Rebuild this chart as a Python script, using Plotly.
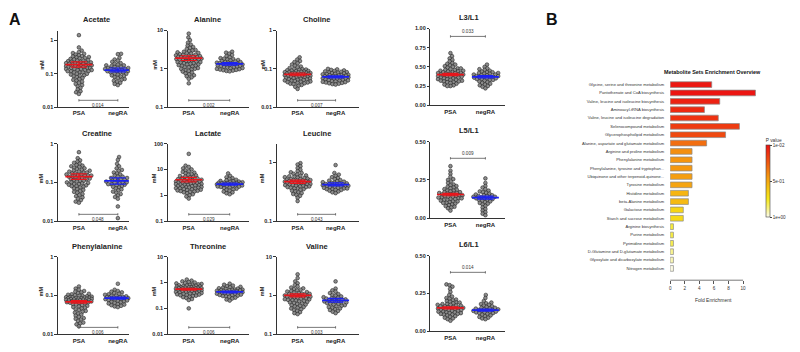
import math
import plotly.graph_objects as go

W, H = 800, 352
FONT = "Liberation Sans"

# ------------------------------------------------------------------ data (panel A)
panel_names = ["Acetate", "Alanine", "Choline", "Creatine", "Lactate", "Leucine",
               "Phenylalanine", "Threonine", "Valine", "L3/L1", "L5/L1", "L6/L1"]
group_labels = ["PSA", "negRA"]

acetate_psa = [1.45, 0.62, 0.5, 0.45, 0.42, 0.4, 0.38, 0.36, 0.34, 0.33, 0.32, 0.31, 0.3, 0.29, 0.28, 0.27, 0.26, 0.25, 0.25, 0.24, 0.23, 0.23, 0.22, 0.22, 0.21, 0.21, 0.2, 0.2, 0.2, 0.19, 0.19, 0.18, 0.18, 0.18, 0.17, 0.17, 0.16, 0.16, 0.16, 0.15, 0.15, 0.15, 0.14, 0.14, 0.14, 0.13, 0.13, 0.13, 0.12, 0.12, 0.12, 0.11, 0.11, 0.11, 0.1, 0.1, 0.095, 0.09, 0.088, 0.085, 0.08, 0.075, 0.07, 0.066, 0.062, 0.058, 0.054, 0.05, 0.046, 0.042, 0.038, 0.034, 0.03, 0.028, 0.025]
acetate_negra = [0.4, 0.39, 0.3, 0.27, 0.25, 0.23, 0.21, 0.2, 0.19, 0.18, 0.18, 0.17, 0.17, 0.16, 0.16, 0.15, 0.15, 0.15, 0.14, 0.14, 0.14, 0.13, 0.13, 0.13, 0.12, 0.12, 0.12, 0.11, 0.11, 0.11, 0.1, 0.1, 0.095, 0.09, 0.087, 0.083, 0.08, 0.075, 0.07, 0.066, 0.062, 0.058, 0.054, 0.05, 0.046]
alanine_psa = [8.3, 6.6, 5.6, 4.8, 4.3, 4.0, 3.7, 3.5, 3.3, 3.1, 3.0, 2.9, 2.8, 2.7, 2.6, 2.55, 2.5, 2.4, 2.35, 2.3, 2.25, 2.2, 2.15, 2.1, 2.05, 2.0, 2.0, 1.95, 1.9, 1.9, 1.85, 1.8, 1.8, 1.75, 1.7, 1.7, 1.65, 1.6, 1.6, 1.55, 1.5, 1.5, 1.45, 1.4, 1.4, 1.35, 1.3, 1.3, 1.25, 1.2, 1.2, 1.15, 1.1, 1.1, 1.05, 1.0, 1.0, 0.96, 0.92, 0.88, 0.85, 0.8, 0.76, 0.72, 0.68, 0.64, 0.6, 0.55, 0.42]
alanine_negra = [2.8, 2.65, 2.5, 2.3, 2.15, 2.0, 1.9, 1.85, 1.8, 1.75, 1.7, 1.65, 1.6, 1.55, 1.5, 1.5, 1.45, 1.45, 1.4, 1.4, 1.35, 1.35, 1.3, 1.3, 1.28, 1.25, 1.22, 1.2, 1.18, 1.15, 1.12, 1.1, 1.08, 1.05, 1.03, 1.0, 0.98, 0.96, 0.94, 0.92, 0.9, 0.88, 0.86]
choline_psa = [0.2, 0.175, 0.16, 0.15, 0.14, 0.13, 0.12, 0.115, 0.11, 0.105, 0.1, 0.098, 0.096, 0.094, 0.092, 0.09, 0.088, 0.087, 0.085, 0.084, 0.082, 0.081, 0.08, 0.079, 0.078, 0.077, 0.076, 0.075, 0.074, 0.073, 0.072, 0.071, 0.07, 0.069, 0.068, 0.067, 0.066, 0.065, 0.064, 0.063, 0.062, 0.061, 0.06, 0.059, 0.058, 0.057, 0.056, 0.055, 0.054, 0.053, 0.052, 0.051, 0.05, 0.049, 0.048, 0.047, 0.046, 0.045, 0.044, 0.043, 0.042, 0.041, 0.04, 0.038, 0.036, 0.034, 0.03]
choline_negra = [0.1, 0.097, 0.094, 0.091, 0.088, 0.086, 0.084, 0.082, 0.08, 0.079, 0.077, 0.076, 0.074, 0.073, 0.072, 0.07, 0.069, 0.068, 0.067, 0.066, 0.065, 0.064, 0.063, 0.062, 0.061, 0.06, 0.059, 0.058, 0.057, 0.056, 0.055, 0.054, 0.053, 0.052, 0.051, 0.05, 0.049, 0.048, 0.047, 0.046, 0.045, 0.044, 0.043, 0.042, 0.041, 0.04, 0.039]
creatine_psa = [0.6, 0.42, 0.37, 0.34, 0.32, 0.3, 0.28, 0.27, 0.26, 0.25, 0.24, 0.23, 0.22, 0.21, 0.2, 0.2, 0.19, 0.19, 0.18, 0.18, 0.17, 0.17, 0.16, 0.16, 0.155, 0.15, 0.15, 0.145, 0.14, 0.14, 0.135, 0.13, 0.13, 0.125, 0.12, 0.12, 0.115, 0.11, 0.11, 0.105, 0.1, 0.1, 0.097, 0.094, 0.09, 0.09, 0.087, 0.084, 0.08, 0.08, 0.077, 0.074, 0.07, 0.067, 0.064, 0.06, 0.057, 0.054, 0.05, 0.047, 0.044, 0.041, 0.038, 0.035, 0.032, 0.03]
creatine_negra = [0.45, 0.38, 0.3, 0.26, 0.23, 0.21, 0.2, 0.18, 0.17, 0.16, 0.15, 0.14, 0.14, 0.13, 0.13, 0.12, 0.12, 0.115, 0.11, 0.11, 0.105, 0.1, 0.1, 0.097, 0.094, 0.09, 0.09, 0.087, 0.084, 0.08, 0.077, 0.074, 0.07, 0.066, 0.062, 0.058, 0.054, 0.05, 0.046, 0.042, 0.038, 0.024, 0.012]
lactate_psa = [40, 14, 12.5, 11, 10, 9.2, 8.5, 8, 7.5, 7, 6.6, 6.2, 5.9, 5.6, 5.3, 5.1, 4.9, 4.7, 4.5, 4.3, 4.2, 4.0, 3.9, 3.8, 3.7, 3.6, 3.5, 3.4, 3.3, 3.2, 3.1, 3.0, 2.95, 2.9, 2.8, 2.75, 2.7, 2.6, 2.55, 2.5, 2.45, 2.4, 2.3, 2.25, 2.2, 2.1, 2.05, 2.0, 1.95, 1.9, 1.85, 1.8, 1.75, 1.7, 1.65, 1.6, 1.55, 1.5, 1.45, 1.4, 1.35, 1.3, 1.2, 1.1, 1.0, 0.9, 0.75]
lactate_negra = [7, 5.6, 5.0, 4.6, 4.3, 4.0, 3.8, 3.6, 3.5, 3.4, 3.3, 3.2, 3.1, 3.05, 3.0, 2.95, 2.9, 2.85, 2.8, 2.75, 2.7, 2.65, 2.6, 2.55, 2.5, 2.45, 2.4, 2.35, 2.3, 2.25, 2.2, 2.15, 2.1, 2.0, 1.9, 1.8, 1.7, 1.6, 1.5, 1.4, 1.3, 1.2, 1.1]
leucine_psa = [0.97, 0.92, 0.86, 0.8, 0.75, 0.71, 0.68, 0.66, 0.64, 0.62, 0.6, 0.59, 0.58, 0.57, 0.56, 0.55, 0.54, 0.53, 0.52, 0.52, 0.51, 0.5, 0.5, 0.49, 0.49, 0.48, 0.48, 0.47, 0.47, 0.46, 0.46, 0.45, 0.45, 0.44, 0.44, 0.43, 0.43, 0.42, 0.42, 0.41, 0.41, 0.4, 0.4, 0.39, 0.39, 0.38, 0.38, 0.37, 0.36, 0.36, 0.35, 0.34, 0.33, 0.32, 0.31, 0.3, 0.29, 0.28, 0.27, 0.25, 0.22]
leucine_negra = [0.9, 0.66, 0.62, 0.59, 0.56, 0.54, 0.52, 0.5, 0.49, 0.48, 0.47, 0.46, 0.45, 0.45, 0.44, 0.44, 0.43, 0.43, 0.42, 0.42, 0.41, 0.41, 0.4, 0.4, 0.39, 0.39, 0.38, 0.38, 0.37, 0.37, 0.36, 0.36, 0.35, 0.35, 0.34, 0.34, 0.33, 0.32, 0.31, 0.3]
phenylalanine_psa = [0.17, 0.15, 0.14, 0.13, 0.125, 0.12, 0.115, 0.11, 0.107, 0.104, 0.101, 0.099, 0.097, 0.095, 0.093, 0.091, 0.09, 0.089, 0.088, 0.087, 0.086, 0.085, 0.084, 0.083, 0.082, 0.081, 0.08, 0.079, 0.078, 0.077, 0.076, 0.075, 0.074, 0.073, 0.072, 0.071, 0.07, 0.069, 0.068, 0.067, 0.066, 0.065, 0.064, 0.062, 0.06, 0.058, 0.056, 0.054, 0.052, 0.05, 0.048, 0.046, 0.044, 0.042, 0.04, 0.038, 0.036, 0.034, 0.032, 0.03, 0.028, 0.026, 0.025, 0.024, 0.022, 0.02, 0.019, 0.018, 0.016]
phenylalanine_negra = [0.2, 0.14, 0.13, 0.125, 0.12, 0.115, 0.11, 0.107, 0.104, 0.101, 0.099, 0.097, 0.095, 0.093, 0.091, 0.09, 0.088, 0.087, 0.086, 0.085, 0.084, 0.083, 0.082, 0.08, 0.079, 0.078, 0.076, 0.075, 0.074, 0.072, 0.07, 0.068, 0.066, 0.064, 0.062, 0.06, 0.058, 0.056, 0.054, 0.052, 0.05]
threonine_psa = [1.3, 1.18, 1.1, 1.04, 1.0, 0.96, 0.92, 0.88, 0.85, 0.82, 0.8, 0.78, 0.76, 0.74, 0.72, 0.7, 0.69, 0.68, 0.66, 0.65, 0.64, 0.63, 0.62, 0.61, 0.6, 0.59, 0.58, 0.57, 0.56, 0.55, 0.54, 0.53, 0.52, 0.51, 0.5, 0.5, 0.49, 0.48, 0.47, 0.46, 0.45, 0.44, 0.43, 0.42, 0.41, 0.4, 0.39, 0.38, 0.37, 0.36, 0.35, 0.34, 0.33, 0.32, 0.31, 0.3, 0.28, 0.27, 0.25, 0.23, 0.21, 0.1]
threonine_negra = [0.9, 0.82, 0.76, 0.72, 0.68, 0.65, 0.62, 0.6, 0.58, 0.56, 0.54, 0.53, 0.52, 0.51, 0.5, 0.49, 0.48, 0.47, 0.46, 0.45, 0.44, 0.43, 0.42, 0.41, 0.4, 0.39, 0.38, 0.37, 0.36, 0.35, 0.34, 0.33, 0.32, 0.31, 0.3, 0.29, 0.28, 0.26, 0.24, 0.22, 0.2]
valine_psa = [3.5, 2.8, 2.3, 2.05, 1.85, 1.7, 1.6, 1.52, 1.45, 1.4, 1.35, 1.3, 1.26, 1.22, 1.18, 1.15, 1.12, 1.1, 1.08, 1.05, 1.03, 1.0, 0.99, 0.97, 0.95, 0.93, 0.92, 0.9, 0.88, 0.87, 0.85, 0.84, 0.82, 0.8, 0.79, 0.77, 0.75, 0.74, 0.72, 0.7, 0.68, 0.66, 0.64, 0.62, 0.6, 0.58, 0.56, 0.54, 0.52, 0.5, 0.48, 0.46, 0.44, 0.42, 0.4, 0.37, 0.35, 0.33]
valine_negra = [2.3, 1.5, 1.35, 1.25, 1.15, 1.08, 1.02, 0.98, 0.94, 0.9, 0.87, 0.85, 0.83, 0.81, 0.79, 0.77, 0.75, 0.73, 0.71, 0.7, 0.68, 0.66, 0.65, 0.63, 0.61, 0.6, 0.58, 0.56, 0.54, 0.52, 0.5, 0.48, 0.46, 0.44, 0.42, 0.4, 0.38, 0.35]
l3l1_psa = [0.68, 0.64, 0.61, 0.59, 0.57, 0.55, 0.54, 0.53, 0.52, 0.51, 0.5, 0.49, 0.48, 0.48, 0.47, 0.46, 0.46, 0.45, 0.45, 0.44, 0.44, 0.43, 0.43, 0.42, 0.42, 0.42, 0.41, 0.41, 0.4, 0.4, 0.4, 0.39, 0.39, 0.38, 0.38, 0.38, 0.37, 0.37, 0.36, 0.36, 0.35, 0.35, 0.34, 0.34, 0.33, 0.33, 0.32, 0.32, 0.31, 0.31, 0.3, 0.3, 0.29, 0.28, 0.27, 0.26, 0.25, 0.25]
l3l1_negra = [0.53, 0.5, 0.48, 0.47, 0.46, 0.45, 0.44, 0.43, 0.43, 0.42, 0.42, 0.41, 0.41, 0.4, 0.4, 0.39, 0.39, 0.38, 0.38, 0.37, 0.37, 0.37, 0.36, 0.36, 0.35, 0.35, 0.34, 0.34, 0.33, 0.33, 0.32, 0.31, 0.3, 0.29, 0.28, 0.27, 0.26, 0.25, 0.24, 0.22]
l5l1_psa = [0.34, 0.31, 0.29, 0.27, 0.255, 0.25, 0.24, 0.23, 0.22, 0.215, 0.21, 0.205, 0.2, 0.195, 0.19, 0.185, 0.18, 0.18, 0.175, 0.17, 0.17, 0.165, 0.165, 0.16, 0.16, 0.155, 0.155, 0.15, 0.15, 0.145, 0.145, 0.14, 0.14, 0.135, 0.135, 0.13, 0.13, 0.125, 0.125, 0.12, 0.12, 0.115, 0.11, 0.11, 0.105, 0.1, 0.1, 0.095, 0.09, 0.085, 0.08, 0.075, 0.07, 0.065, 0.05]
l5l1_negra = [0.26, 0.23, 0.21, 0.2, 0.19, 0.18, 0.175, 0.17, 0.165, 0.16, 0.155, 0.15, 0.15, 0.145, 0.145, 0.14, 0.14, 0.135, 0.135, 0.13, 0.13, 0.125, 0.12, 0.12, 0.115, 0.11, 0.105, 0.1, 0.095, 0.09, 0.08, 0.07, 0.06, 0.05, 0.04, 0.03, 0.02]
l6l1_psa = [0.31, 0.305, 0.295, 0.28, 0.26, 0.24, 0.23, 0.22, 0.215, 0.21, 0.205, 0.2, 0.195, 0.19, 0.19, 0.185, 0.18, 0.18, 0.175, 0.175, 0.17, 0.17, 0.165, 0.165, 0.16, 0.16, 0.155, 0.155, 0.15, 0.15, 0.15, 0.145, 0.145, 0.14, 0.14, 0.14, 0.135, 0.135, 0.13, 0.13, 0.125, 0.125, 0.12, 0.12, 0.115, 0.115, 0.11, 0.11, 0.105, 0.1, 0.095, 0.09, 0.085, 0.08, 0.07]
l6l1_negra = [0.24, 0.22, 0.2, 0.19, 0.185, 0.18, 0.175, 0.17, 0.165, 0.16, 0.155, 0.155, 0.15, 0.15, 0.145, 0.145, 0.14, 0.14, 0.14, 0.135, 0.135, 0.13, 0.13, 0.125, 0.125, 0.12, 0.12, 0.115, 0.11, 0.105, 0.1, 0.095, 0.09, 0.085, 0.08]

mean_psa = [0.19, 1.9, 0.072, 0.14, 4.0, 0.47, 0.068, 0.55, 1.0, 0.40, 0.155, 0.155]
ci_low_psa = [0.16, 1.65, 0.066, 0.12, 3.3, 0.44, 0.063, 0.51, 0.92, 0.385, 0.147, 0.148]
ci_high_psa = [0.23, 2.2, 0.078, 0.165, 4.9, 0.50, 0.074, 0.60, 1.10, 0.415, 0.163, 0.162]
mean_negra = [0.13, 1.35, 0.062, 0.11, 2.7, 0.42, 0.085, 0.43, 0.75, 0.37, 0.135, 0.14]
ci_low_negra = [0.115, 1.25, 0.058, 0.09, 2.45, 0.40, 0.080, 0.40, 0.67, 0.355, 0.125, 0.133]
ci_high_negra = [0.15, 1.45, 0.066, 0.13, 3.0, 0.45, 0.090, 0.46, 0.84, 0.385, 0.145, 0.147]
p_labels = ["0.014", "0.002", "0.007", "0.048", "0.029", "0.043",
            "0.006", "0.006", "0.003", "0.033", "0.009", "0.014"]

y_tickvals = [[0.01, 0.1, 1], [0.1, 1, 10], [0.01, 0.1, 1],
              [0.01, 0.1, 1], [0.1, 1, 10, 100], [0.1, 1],
              [0.01, 0.1, 1], [0.01, 0.1, 1, 10], [0.1, 1, 10],
              [0, 0.25, 0.5, 0.75, 1.0], [0, 0.25, 0.5], [0, 0.25, 0.5]]
y_ticktext = [["0.01", "0.1", "1"], ["0.1", "1", "10"], ["0.01", "0.1", "1"],
              ["0.01", "0.1", "1"], ["0.1", "1", "10", "100"], ["0.1", "1"],
              ["0.01", "0.1", "1"], ["0.01", "0.1", "1", "10"], ["0.1", "1", "10"],
              ["0.00", "0.25", "0.50", "0.75", "1.00"], ["0.00", "0.25", "0.50"], ["0.00", "0.25", "0.50"]]

psa_values = [acetate_psa, alanine_psa, choline_psa, creatine_psa, lactate_psa, leucine_psa,
              phenylalanine_psa, threonine_psa, valine_psa, l3l1_psa, l5l1_psa, l6l1_psa]
negra_values = [acetate_negra, alanine_negra, choline_negra, creatine_negra, lactate_negra, leucine_negra,
                phenylalanine_negra, threonine_negra, valine_negra, l3l1_negra, l5l1_negra, l6l1_negra]

# ------------------------------------------------------------------ data (panel B)
pathways = ["Glycine, serine and threonine metabolism", "Pantothenate and CoA biosynthesis",
            "Valine, leucine and isoleucine biosynthesis", "Aminoacyl-tRNA biosynthesis",
            "Valine, leucine and isoleucine degradation", "Selenocompound metabolism",
            "Glycerophospholipid metabolism", "Alanine, aspartate and glutamate metabolism",
            "Arginine and proline metabolism", "Phenylalanine metabolism",
            "Phenylalanine, tyrosine and tryptophan...", "Ubiquinone and other terpenoid-quinone...",
            "Tyrosine metabolism", "Histidine metabolism", "beta-Alanine metabolism",
            "Galactose metabolism", "Starch and sucrose metabolism", "Arginine biosynthesis",
            "Purine metabolism", "Pyrimidine metabolism", "D-Glutamine and D-glutamate metabolism",
            "Glyoxylate and dicarboxylate metabolism", "Nitrogen metabolism"]
fold_enrichment = [5.7, 11.7, 6.8, 4.7, 6.6, 9.5, 7.6, 5.0, 3.0, 3.0, 3.0, 3.0, 3.0,
                   2.5, 2.5, 1.8, 1.8, 0.45, 0.45, 0.45, 0.45, 0.45, 0.45]
pathway_p = [0.03, 0.02, 0.06, 0.09, 0.12, 0.15, 0.2, 0.32, 0.42, 0.44, 0.45, 0.47, 0.49,
             0.55, 0.57, 0.67, 0.69, 0.79, 0.8, 0.82, 0.9, 0.94, 0.99]
fold_ticks = [0, 2, 4, 6, 8, 10]

# ------------------------------------------------------------------ layout geometry (pixels)
axis_type = ["log"] * 9 + ["linear"] * 3
axis_range = [[-2, 0.3], [-1, 1], [-2, 0], [-2, 0], [-1, 2], [-1, 0.32],
              [-2, 0], [-2, 1], [-1, 1], [0, 1], [0, 0.5], [0, 0.5]]
cols = [(57, 128, 78, 117), (167, 248, 188, 229), (276, 358, 297, 335), (430, 505, 450, 485)]
rows_met = [(28, 106), (143, 222), (258, 337)]
rows_l = [(26, 104), (141, 219), (257, 334)]
title_x = [96, 207, 316, 469]
title_y_met = [17, 133, 248]
title_y_l = [15, 130, 246]
mm_x = [41, 154, 262]
bracket_y_met = [99, 215, 330]
bracket_y_l = [34, 158, 274]

RED = "#e8161c"
BLUE = "#1c22f2"


def px(x):
    return x / W


def py(y):
    return 1 - y / H


def note(text, x, y, size, color="#222", **kw):
    d = dict(text=text, xref="paper", yref="paper", x=px(x), y=py(y), xanchor="center",
             yanchor="middle", showarrow=False, font=dict(family=FONT, size=size, color=color))
    d.update(kw)
    return d


def swarm(vals, to_px, dmin=3.1, step=0.4, maxw=13.0):
    ys = [to_px(v) for v in vals]
    order = sorted(range(len(vals)), key=lambda i: ys[i])
    placed = []
    offs = [0.0] * len(vals)
    m = int(maxw / step)
    for n, i in enumerate(order):
        y = ys[i]
        near = [(a, b) for (a, b) in placed if abs(b - y) < dmin]
        sgn = 1 if n % 2 == 0 else -1
        best = None
        for j in range(m + 1):
            cands = [0.0] if j == 0 else [sgn * j * step, -sgn * j * step]
            for s in cands:
                if all((s - a) ** 2 + (y - b) ** 2 >= dmin ** 2 for (a, b) in near):
                    best = s
                    break
            if best is not None:
                break
        if best is None:
            bestd = -1.0
            for j in range(-m, m + 1):
                s = j * step
                d = min((s - a) ** 2 + (y - b) ** 2 for (a, b) in near)
                if d > bestd:
                    bestd, best = d, s
        offs[i] = best
        placed.append((best, y))
    return offs


fig = go.Figure()
layout = dict(width=W, height=H, margin=dict(l=0, r=0, t=0, b=0),
              paper_bgcolor="white", plot_bgcolor="white", showlegend=False,
              font=dict(family=FONT, color="#222"))
annotations = []
shapes = []

for i in range(12):
    k = i + 1
    xa, ya = f"x{k}", f"y{k}"
    if i < 9:
        x0, x1, c0, c1 = cols[i % 3]
        ytop, ybot = rows_met[i // 3]
        tx, ty = title_x[i % 3], title_y_met[i // 3]
        by = bracket_y_met[i // 3]
    else:
        x0, x1, c0, c1 = cols[3]
        ytop, ybot = rows_l[i - 9]
        tx, ty = title_x[3], title_y_l[i - 9]
        by = bracket_y_l[i - 9]
    ppu = float(c1 - c0)
    r0, r1 = axis_range[i]
    hpx = ybot - ytop
    typ = axis_type[i]

    def to_px(v, r0=r0, r1=r1, hpx=hpx, typ=typ):
        if typ == "log":
            return (math.log10(v) - r0) / (r1 - r0) * hpx
        return (v - r0) / (r1 - r0) * hpx

    layout[f"xaxis{k}"] = dict(
        domain=[px(x0), px(x1)], range=[-(c0 - x0) / ppu, 1 + (x1 - c1) / ppu],
        tickvals=[0, 1], ticktext=group_labels, showline=True, linecolor="#333",
        linewidth=1.2, ticks="", showgrid=False, zeroline=False, anchor=ya,
        tickfont=dict(family=FONT, size=6, color="#222", weight="bold"), fixedrange=True)
    layout[f"yaxis{k}"] = dict(
        domain=[py(ybot), py(ytop)], type=typ, range=[r0, r1],
        tickvals=y_tickvals[i], ticktext=y_ticktext[i], showline=True, linecolor="#333",
        linewidth=1.2, ticks="outside", ticklen=2.5, tickwidth=1, tickcolor="#333",
        showgrid=False, zeroline=False, anchor=xa,
        tickfont=dict(family=FONT, size=5.5, color="#222", weight="bold"), fixedrange=True)

    for g, vals in ((0, psa_values[i]), (1, negra_values[i])):
        offs = swarm(vals, to_px)
        fig.add_trace(go.Scatter(
            x=[g + o / ppu for o in offs], y=vals, mode="markers", xaxis=xa, yaxis=ya,
            cliponaxis=False, hoverinfo="skip",
            marker=dict(size=3.7, color="#8c8c8c", line=dict(color="#1e1e1e", width=0.55))))

    hw = 13.5 / ppu
    for g, m, lo, hi, col in ((0, mean_psa[i], ci_low_psa[i], ci_high_psa[i], RED),
                              (1, mean_negra[i], ci_low_negra[i], ci_high_negra[i], BLUE)):
        fig.add_trace(go.Scatter(x=[g - hw, g + hw], y=[m, m], mode="lines", xaxis=xa, yaxis=ya,
                                 cliponaxis=False, hoverinfo="skip",
                                 line=dict(color=col, width=1.7)))
        fig.add_trace(go.Scatter(x=[g], y=[m], mode="markers", xaxis=xa, yaxis=ya,
                                 cliponaxis=False, hoverinfo="skip",
                                 marker=dict(size=1, color=col),
                                 error_y=dict(type="data", symmetric=False, array=[hi - m],
                                              arrayminus=[m - lo], color=col, thickness=1.2,
                                              width=8)))

    # significance bracket
    shapes.append(dict(type="line", xref=xa, yref="paper", x0=0, x1=1, y0=py(by), y1=py(by),
                       line=dict(color="#555", width=0.8)))
    for xe in (0, 1):
        shapes.append(dict(type="line", xref=xa, yref="paper", x0=xe, x1=xe,
                           y0=py(by - 1.2), y1=py(by + 1.2), line=dict(color="#555", width=0.8)))
    if i < 9:
        annotations.append(dict(text=p_labels[i], xref=xa, yref="paper", x=0.5, y=py(by + 0.6),
                                xanchor="center", yanchor="top", showarrow=False,
                                font=dict(family=FONT, size=4.6, color="#333")))
        annotations.append(note("<b>mM</b>", mm_x[i % 3], (ytop + ybot) / 2 - 4, 5.5,
                                textangle=-90))
    else:
        annotations.append(dict(text=p_labels[i], xref=xa, yref="paper", x=0.5, y=py(by - 0.6),
                                xanchor="center", yanchor="bottom", showarrow=False,
                                font=dict(family=FONT, size=4.6, color="#333")))
    annotations.append(note(f"<b>{panel_names[i]}</b>", tx, ty, 7.5))

# ------------------------------------------------------------------ panel B
k = 13
bx0 = 670
ppx = 7.3
xmax = 12.5
fig.add_trace(go.Bar(
    x=fold_enrichment, y=pathways, orientation="h", xaxis=f"x{k}", yaxis=f"y{k}",
    width=0.68, hoverinfo="skip",
    marker=dict(color=[-p for p in pathway_p], cmin=-1, cmax=-0.01,
                colorscale=[[0, "#fbfbec"], [0.12, "#f8f27e"], [0.25, "#f6e81c"],
                            [0.4, "#f6c412"], [0.55, "#f59a10"], [0.75, "#f05a10"],
                            [1, "#ec1212"]],
                line=dict(color="#8a8a8a", width=0.7), showscale=True,
                colorbar=dict(x=px(766), xanchor="left", xpad=0, y=py(176.5), yanchor="middle",
                              ypad=0, len=83 / H, lenmode="fraction", thickness=4,
                              outlinewidth=0.6, outlinecolor="#444",
                              tickvals=[-0.01, -0.5, -1], ticktext=["1e-02", "5e-01", "1e+00"],
                              ticks="outside", ticklen=2, tickcolor="#444",
                              tickfont=dict(family=FONT, size=4.6, color="#333"),
                              title=dict(text="P value", side="top",
                                         font=dict(family=FONT, size=4.8, color="#333"))))))
layout[f"xaxis{k}"] = dict(domain=[px(bx0), px(bx0 + xmax * ppx)], range=[0, xmax],
                           tickvals=fold_ticks, ticks="outside", ticklen=3, tickcolor="#555",
                           showline=False, showgrid=False, zeroline=False, anchor=f"y{k}",
                           tickfont=dict(family=FONT, size=4.6, color="#333"), fixedrange=True)
layout[f"yaxis{k}"] = dict(domain=[py(282), py(78)], type="category",
                           categoryorder="array", categoryarray=pathways,
                           range=[len(pathways) + 0.41, -0.59], ticks="", showline=False,
                           showgrid=False, zeroline=False, anchor=f"x{k}", ticklabelstandoff=5,
                           tickfont=dict(family=FONT, size=4.1, color="#333"), fixedrange=True)
shapes.append(dict(type="line", xref=f"x{k}", yref="paper", x0=0, x1=10,
                   y0=py(282), y1=py(282), line=dict(color="#555", width=0.8)))
annotations.append(note("<b>Metabolite Sets Enrichment Overview</b>", 712, 70, 5.4, "#111"))
annotations.append(note("Fold Enrichment", 713, 302, 5, "#333"))

# panel letters
annotations.append(note("<b>A</b>", 14, 17, 16, "#111"))
annotations.append(note("<b>B</b>", 552, 17, 16, "#111"))

layout["annotations"] = annotations
layout["shapes"] = shapes
fig.update_layout(**layout)
fig.write_html("out.html")
